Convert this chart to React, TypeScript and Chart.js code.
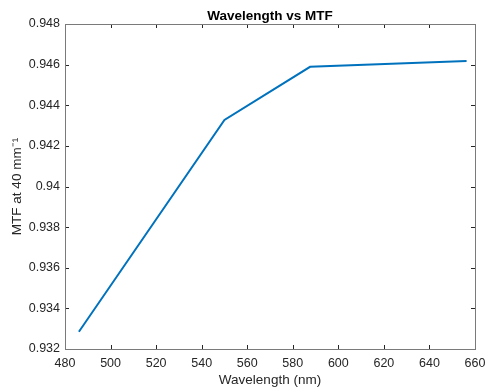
import { useEffect, useRef } from "react";
import { Chart, registerables } from "chart.js";

Chart.register(...registerables);

const wavelengths = [486.1, 550.0, 587.6, 656.3];
const mtfValues = [0.93285, 0.94328, 0.94589, 0.94618];
const xTicks = [480, 500, 520, 540, 560, 580, 600, 620, 640, 660];
const yTicks = [0.932, 0.934, 0.936, 0.938, 0.94, 0.942, 0.944, 0.946, 0.948];

const FONT = "'Liberation Sans', Arial, Helvetica, sans-serif";
const TEXT = "#262626";

const boxPlugin = {
  id: "matlabBox",
  afterDraw(chart: any) {
    const { ctx, chartArea } = chart;
    const { left, right, top, bottom } = chartArea;
    const xs = chart.scales.x;
    const ys = chart.scales.y;
    const tl = 4;
    ctx.save();
    ctx.strokeStyle = "#262626";
    ctx.lineWidth = 1;
    ctx.beginPath();
    xTicks.forEach((v) => {
      const px = Math.round(xs.getPixelForValue(v)) + 0.5;
      ctx.moveTo(px, bottom);
      ctx.lineTo(px, bottom - tl);
      ctx.moveTo(px, top);
      ctx.lineTo(px, top + tl);
    });
    yTicks.forEach((v) => {
      const py = Math.round(ys.getPixelForValue(v)) + 0.5;
      ctx.moveTo(left, py);
      ctx.lineTo(left + tl, py);
      ctx.moveTo(right, py);
      ctx.lineTo(right - tl, py);
    });
    ctx.stroke();
    ctx.strokeStyle = "#7a7a7a";
    ctx.strokeRect(Math.round(left) + 0.5, Math.round(top) + 0.5, Math.round(right - left), Math.round(bottom - top));
    // title
    ctx.fillStyle = "#000";
    ctx.font = `bold 13.5px ${FONT}`;
    ctx.textAlign = "center";
    ctx.textBaseline = "alphabetic";
    ctx.fillText("Wavelength vs MTF", (left + right) / 2, 20);
    ctx.restore();
  },
};

export default function App() {
  const ref = useRef<HTMLCanvasElement | null>(null);
  useEffect(() => {
    document.body.style.margin = "0";
    const canvas = ref.current!;
    const chart = new Chart(canvas, {
      type: "line",
      data: {
        datasets: [
          {
            data: wavelengths.map((x, i) => ({ x, y: mtfValues[i] })),
            borderColor: "#0072BD",
            borderWidth: 2,
            pointRadius: 0,
            fill: false,
            tension: 0,
          },
        ],
      },
      options: {
        animation: false,
        responsive: false,
        maintainAspectRatio: false,
        devicePixelRatio: 1,
        layout: { padding: { top: 24, right: 11, left: 0, bottom: 0 } },
        plugins: {
          legend: { display: false },
          tooltip: { enabled: false },
          title: { display: false },
        },
        scales: {
          x: {
            type: "linear",
            min: 480,
            max: 660,
            afterFit: (s: any) => {
              s.height = 39;
              s.paddingLeft = 0;
              s.paddingRight = 0;
            },
            afterBuildTicks: (s: any) => {
              s.ticks = xTicks.map((v) => ({ value: v }));
            },
            grid: { display: false, drawTicks: false },
            border: { display: false },
            ticks: {
              padding: 7,
              color: TEXT,
              font: { family: FONT, size: 12.5 },
              maxRotation: 0,
              callback: (v: any) => String(v),
            },
            title: {
              display: true,
              text: "Wavelength (nm)",
              color: TEXT,
              font: { family: FONT, size: 13.5 },
              padding: { top: 0, bottom: 0 },
            },
          },
          y: {
            type: "linear",
            min: 0.932,
            max: 0.948,
            afterFit: (s: any) => {
              s.width = 65;
              s.paddingTop = 0;
              s.paddingBottom = 0;
            },
            afterBuildTicks: (s: any) => {
              s.ticks = yTicks.map((v) => ({ value: v }));
            },
            grid: { display: false, drawTicks: false },
            border: { display: false },
            ticks: {
              padding: 5,
              color: TEXT,
              font: { family: FONT, size: 12.5 },
              callback: (v: any) => String(Number(Number(v).toFixed(3))),
            },
            title: {
              display: true,
              text: "MTF at 40 mm⁻¹",
              color: TEXT,
              font: { family: FONT, size: 13.5 },
              padding: { top: 9, bottom: 2 },
            },
          },
        },
      },
      plugins: [boxPlugin],
    } as any);
    return () => chart.destroy();
  }, []);
  return (
    <div style={{ position: "absolute", left: 0, top: 0, width: 486, height: 388, background: "#fff" }}>
      <canvas ref={ref} width={486} height={388} style={{ width: 486, height: 388, display: "block" }} />
    </div>
  );
}
